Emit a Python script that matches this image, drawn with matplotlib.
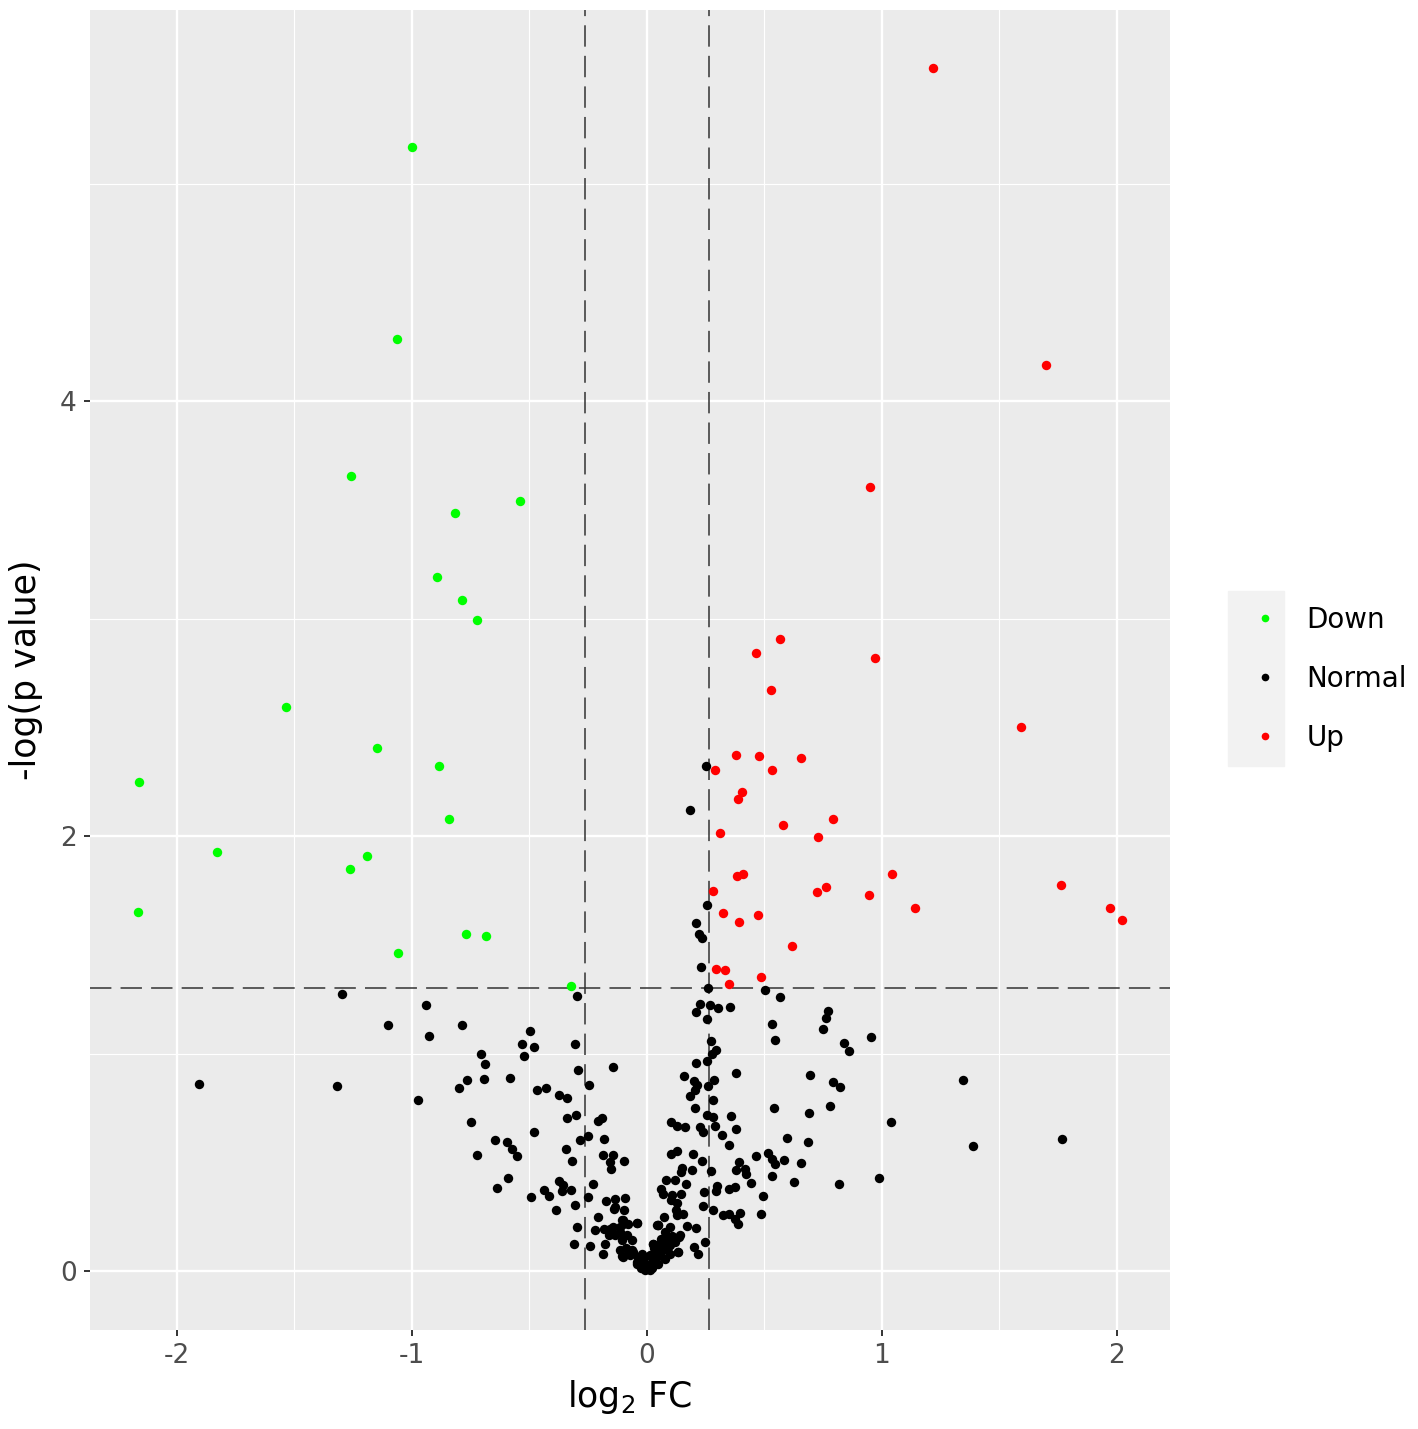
import numpy as np
import matplotlib
matplotlib.use('Agg')
import matplotlib.pyplot as plt
from matplotlib.lines import Line2D
from matplotlib.patches import Rectangle

plt.rcParams['axes.unicode_minus'] = False

# significance cut-offs
fc_cut = 0.2630
p_cut = 1.301

# Down regulated (green)
down_x = [-1.000, -1.064, -1.260, -0.540, -0.817, -0.894, -0.787, -0.723, -1.536,
          -1.149, -0.885, -2.162, -0.843, -1.830, -1.191, -1.264, -2.166, -0.770,
          -0.685, -1.060, -0.323]
down_y = [5.168, 4.285, 3.655, 3.540, 3.485, 3.191, 3.085, 2.993, 2.593,
          2.405, 2.322, 2.248, 2.078, 1.926, 1.908, 1.848, 1.651, 1.549,
          1.540, 1.462, 1.310]

# Up regulated (red)
up_x = [1.217, 1.698, 0.949, 0.566, 0.464, 0.970, 0.528, 1.591, 0.381, 0.477,
        0.657, 0.288, 0.532, 0.406, 0.386, 0.793, 0.580, 0.312, 0.730, 1.043,
        0.410, 0.383, 1.762, 0.762, 0.725, 0.282, 0.945, 1.140, 1.970, 0.474,
        0.323, 2.021, 0.390, 0.616, 0.294, 0.332, 0.348, 0.485]
up_y = [5.531, 4.166, 3.605, 2.906, 2.841, 2.818, 2.671, 2.501, 2.375, 2.368,
        2.360, 2.303, 2.307, 2.204, 2.170, 2.081, 2.052, 2.015, 1.997, 1.825,
        1.827, 1.819, 1.775, 1.766, 1.743, 1.747, 1.729, 1.669, 1.669, 1.640,
        1.647, 1.614, 1.606, 1.494, 1.390, 1.384, 1.321, 1.355]

# Not significant (black)
normal_x = [-1.906, 1.345, 1.387, 1.766,
            0.251, 0.182, 0.257, 0.209, 0.223, 0.233, 0.230,
            -1.299, -0.939, -1.101, -0.789, -0.928, -0.498, -0.533, -0.481, -0.522,
            -0.308, -0.299, -0.706, -0.691, -0.692, -0.767, -0.799, -0.584, -0.292,
            -0.248, -0.145, -1.318, -0.973, -0.469, -0.431, -0.373, -0.338, -0.750,
            -0.338, -0.303, -0.210, -0.193, -0.481, -0.647, -0.594, -0.576, -0.555,
            -0.721, -0.285, -0.251, -0.182, -0.343, -0.318, -0.186, -0.143, -0.157,
            -0.153, -0.097, -0.590, -0.640, -0.494, -0.437, -0.417, -0.376, -0.356,
            -0.360, -0.322, -0.389, -0.306, -0.228, -0.252, -0.176, -0.136, -0.094,
            -0.139, -0.097, -0.298, -0.309, -0.243, -0.207, -0.221, -0.182, -0.146,
            -0.160, -0.115, -0.101, -0.044, -0.086, -0.179, -0.186, -0.115, -0.105,
            -0.065, -0.030, -0.009, 0.027, 0.041,
            0.261, 0.503, 0.565, 0.227, 0.207, 0.269, 0.302, 0.353, 0.255, 0.531,
            0.545, 0.769, 0.760, 0.749, 0.953, 0.840, 0.858, 0.274, 0.296, 0.275,
            0.255, 0.207, 0.381, 0.159, 0.200, 0.211, 0.285, 0.260, 0.203, 0.182,
            0.280, 0.696, 0.790, 0.821, 0.206, 0.257, 0.282, 0.356, 0.540, 0.689,
            0.777, 0.101, 0.126, 0.160, 0.226, 0.240, 0.291, 0.377, 0.319, 0.348,
            0.596, 0.686, 1.038, 0.103, 0.126, 0.197, 0.234, 0.271, 0.149, 0.143,
            0.193, 0.393, 0.380, 0.418, 0.421, 0.465, 0.516, 0.531, 0.543, 0.583,
            0.655, 0.531, 0.443, 0.624, 0.818, 0.987, 0.082, 0.118, 0.166, 0.061,
            0.069, 0.105, 0.143, 0.241, 0.299, 0.294, 0.350, 0.374, 0.495, 0.101,
            0.129, 0.240, 0.280, 0.123, 0.155, 0.325, 0.350, 0.374, 0.386, 0.397,
            0.484, 0.071, 0.048, 0.098, 0.169, 0.209, 0.138, 0.247, 0.200, 0.216,
            0.133, 0.069, 0.027, 0.091, 0.055, 0.027, -0.001, -0.023,
            -0.037, -0.016, 0.006, 0.027, 0.041, 0.055, 0.062, 0.077, -0.058, -0.080,
            -0.101, -0.030, -0.009, 0.013, 0.034, 0.048, 0.069, 0.084, 0.098, -0.044,
            -0.108, -0.136, -0.157, -0.101, -0.080, -0.044, -0.136, -0.108, 0.126,
            0.048, 0.062, 0.140, 0.119, 0.133, 0.098, 0.077,
            -0.043, -0.026, 0.021, 0.038, 0.055, 0.072, 0.089, 0.106, 0.013, 0.030,
            -0.072, -0.089, -0.064, -0.115, -0.013]
normal_y = [0.860, 0.878, 0.575, 0.607,
            2.322, 2.120, 1.683, 1.600, 1.553, 1.534, 1.399,
            1.277, 1.225, 1.134, 1.134, 1.080, 1.105, 1.044, 1.031, 0.992,
            1.044, 1.268, 1.001, 0.952, 0.886, 0.878, 0.843, 0.890, 0.924,
            0.858, 0.939, 0.851, 0.786, 0.835, 0.845, 0.809, 0.798, 0.687,
            0.705, 0.720, 0.690, 0.705, 0.641, 0.602, 0.595, 0.564, 0.529,
            0.533, 0.605, 0.621, 0.608, 0.563, 0.509, 0.535, 0.536, 0.503,
            0.472, 0.509, 0.431, 0.385, 0.340, 0.372, 0.345, 0.414, 0.395,
            0.369, 0.372, 0.280, 0.303, 0.403, 0.340, 0.323, 0.333, 0.339,
            0.288, 0.280, 0.205, 0.124, 0.118, 0.250, 0.189, 0.196, 0.204,
            0.166, 0.204, 0.234, 0.222, 0.166, 0.127, 0.081, 0.097, 0.069,
            0.100, 0.066, 0.020, 0.127, 0.211,
            1.304, 1.292, 1.260, 1.231, 1.194, 1.223, 1.211, 1.214, 1.160, 1.139,
            1.062, 1.197, 1.163, 1.113, 1.076, 1.048, 1.011, 1.057, 1.016, 0.998,
            0.966, 0.958, 0.913, 0.900, 0.874, 0.858, 0.878, 0.851, 0.832, 0.805,
            0.789, 0.901, 0.869, 0.847, 0.751, 0.720, 0.709, 0.713, 0.753, 0.726,
            0.759, 0.687, 0.667, 0.663, 0.662, 0.641, 0.667, 0.652, 0.628, 0.579,
            0.611, 0.593, 0.685, 0.538, 0.552, 0.541, 0.506, 0.460, 0.477, 0.457,
            0.464, 0.503, 0.464, 0.472, 0.449, 0.529, 0.546, 0.518, 0.495, 0.510,
            0.500, 0.438, 0.405, 0.412, 0.403, 0.428, 0.418, 0.418, 0.402, 0.380,
            0.357, 0.349, 0.357, 0.366, 0.391, 0.369, 0.380, 0.388, 0.347, 0.330,
            0.314, 0.299, 0.284, 0.280, 0.265, 0.259, 0.262, 0.242, 0.219, 0.270,
            0.264, 0.250, 0.211, 0.204, 0.207, 0.200, 0.158, 0.135, 0.112, 0.081,
            0.089, 0.143, 0.127, 0.112, 0.081, 0.058, 0.028, 0.081,
            0.066, 0.020, 0.028, 0.051, 0.089, 0.127, 0.150, 0.181, 0.089, 0.097,
            0.066, 0.043, 0.005, 0.005, 0.074, 0.035, 0.112, 0.097, 0.120, 0.035,
            0.143, 0.166, 0.196, 0.219, 0.219, 0.222, 0.296, 0.234, 0.257,
            0.211, 0.097, 0.166, 0.135, 0.089, 0.081, 0.058,
            0.041, 0.014, 0.014, 0.041, 0.074, 0.106, 0.143, 0.161, 0.074, 0.106,
            0.074, 0.106, 0.143, 0.179, 0.060]

fig = plt.figure(figsize=(14.18, 14.29), dpi=100)
ax = fig.add_axes([90 / 1418, 1 - 1330 / 1429, 1080 / 1418, 1320 / 1429])
ax.set_facecolor('#EBEBEB')
for s in ax.spines.values():
    s.set_visible(False)

ax.set_xlim(-2.37, 2.226)
ax.set_ylim(-0.27, 5.80)
ax.set_xticks([-2, -1, 0, 1, 2])
ax.set_yticks([0, 2, 4])
ax.set_xticks([-1.5, -0.5, 0.5, 1.5], minor=True)
ax.set_yticks([1, 3, 5], minor=True)
ax.grid(which='major', color='white', lw=1.7)
ax.grid(which='minor', color='white', lw=0.85)
ax.set_axisbelow(True)
ax.tick_params(which='major', length=4.5, width=1.4, color='#333333',
               labelcolor='#4D4D4D', labelsize=19, pad=5)
ax.tick_params(which='minor', length=0)

dash = (0, (14, 6))
ax.axvline(-fc_cut, color='#333333', lw=1.1, ls=dash, zorder=2)
ax.axvline(fc_cut, color='#333333', lw=1.1, ls=dash, zorder=2)
ax.axhline(p_cut, color='#333333', lw=1.1, ls=dash, zorder=2)

ax.scatter(down_x, down_y, s=46, color='#00FF00', lw=0, zorder=3)
ax.scatter(normal_x, normal_y, s=46, color='black', lw=0, zorder=3)
ax.scatter(up_x, up_y, s=46, color='#FF0000', lw=0, zorder=3)

ax.set_xlabel('log$_2$ FC', fontsize=25, labelpad=6)
ax.set_ylabel('-log(p value)', fontsize=25, labelpad=12)

# legend keys
fig.patches.append(Rectangle((1228 / 1418, 1 - 766 / 1429), 56 / 1418, 175 / 1429,
                             transform=fig.transFigure, color='#F2F2F2', zorder=0))
handles = [Line2D([], [], ls='', marker='o', ms=5.5, mew=0, color=c)
           for c in ['#00FF00', 'black', '#FF0000']]
fig.legend(handles, ['Down', 'Normal', 'Up'], loc='center left',
           bbox_to_anchor=(1234 / 1418, 1 - 679 / 1429), frameon=False,
           fontsize=20, labelspacing=1.12, handlelength=1.2, handletextpad=0.9,
           borderpad=0)

fig.savefig('out.png', dpi=100)
